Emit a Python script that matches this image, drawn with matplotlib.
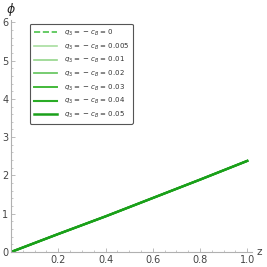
import matplotlib
matplotlib.use("Agg")
import matplotlib.pyplot as plt
from matplotlib.ticker import MultipleLocator

# values (all curves coincide)
q_values = ["0", "0.005", "0.01", "0.02", "0.03", "0.04", "0.05"]
z = [0.0, 0.2, 0.4, 0.6, 0.8, 1.0]
phi = [0.0, 0.47, 0.93, 1.41, 1.89, 2.38]

colors = ["#4cc24c", "#a8dea0", "#94d58a", "#6cc866", "#42b93a", "#2aac26", "#1aa01a"]
styles = ["--", "-", "-", "-", "-", "-", "-"]
widths = [1.2, 1.2, 1.2, 1.3, 1.4, 1.5, 1.8]

plt.rcParams["font.family"] = "DejaVu Sans"
fig = plt.figure(figsize=(2.67, 2.67), dpi=100)
ax = fig.add_axes([11 / 267, 15 / 267, 241 / 267, 232 / 267])

for q, c, ls, lw in zip(q_values, colors, styles, widths):
    ax.plot(z, phi, color=c, ls=ls, lw=lw,
            label=r"$q_3$ = $-$ $c_B$ = " + q)

ax.set_xlim(0, 1.02)
ax.set_ylim(0, 6.06)
for s in ["top", "right"]:
    ax.spines[s].set_visible(False)
for s in ["left", "bottom"]:
    ax.spines[s].set_color("#b0b0b0")
    ax.spines[s].set_linewidth(0.8)

ax.set_xticks([0.2, 0.4, 0.6, 0.8, 1.0])
ax.set_xticklabels(["0.2", "0.4", "0.6", "0.8", "1.0"])
ax.set_yticks(range(7))
ax.xaxis.set_minor_locator(MultipleLocator(0.05))
ax.yaxis.set_minor_locator(MultipleLocator(0.2))
ax.tick_params(which="both", direction="in", color="#b0b0b0",
               labelsize=7, labelcolor="#444444", pad=2)
ax.tick_params(which="major", length=3, width=0.6)
ax.tick_params(which="minor", length=1.5, width=0.5)

ax.text(1.04, 0.0, "z", fontsize=7.5, color="#444444", ha="left", va="center",
        clip_on=False)
ax.text(0.0, 6.12, r"$\phi$", fontsize=9, color="#222222", ha="center",
        va="bottom", clip_on=False)

leg = ax.legend(loc="upper left", bbox_to_anchor=(19 / 241, 1 - 4 / 232),
                borderaxespad=0, fontsize=5, frameon=True, fancybox=True,
                handlelength=3.3, labelspacing=0.5, borderpad=0.55,
                handletextpad=1.0)
leg.get_frame().set_edgecolor("#555555")
leg.get_frame().set_linewidth(0.8)
leg.get_frame().set_alpha(1)
for t in leg.get_texts():
    t.set_color("#333333")

fig.savefig("out.png", dpi=100)
